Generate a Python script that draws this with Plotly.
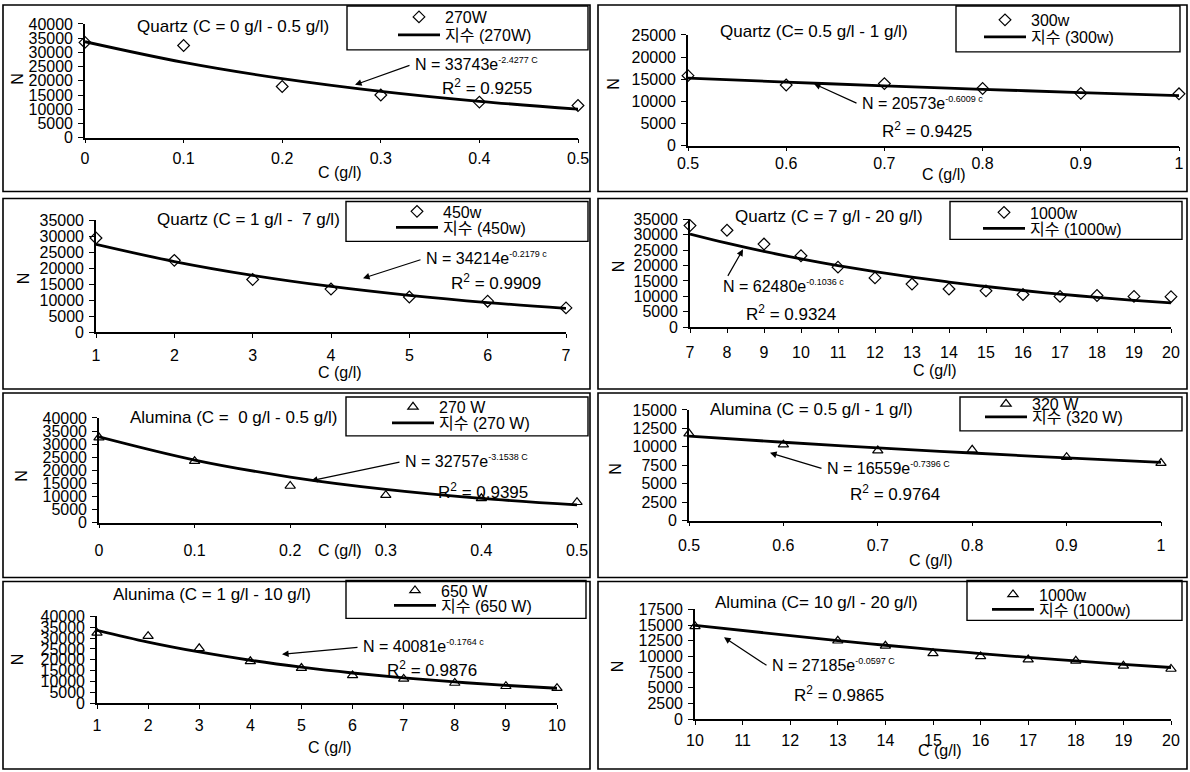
import math
import plotly.graph_objects as go

# ---------------- data ----------------
q1_c = [0, 0.1, 0.2, 0.3, 0.4, 0.5]
q1_n = [33500, 32400, 18000, 15000, 12500, 11300]
q2_c = [0.5, 0.6, 0.7, 0.8, 0.9, 1.0]
q2_n = [15800, 13700, 14000, 12900, 11800, 11700]
q3_c = [1, 2, 3, 4, 5, 6, 7]
q3_n = [29500, 22500, 16500, 13500, 11000, 9700, 7600]
q4_c = [7, 8, 9, 10, 11, 12, 13, 14, 15, 16, 17, 18, 19, 20]
q4_n = [33000, 31500, 27000, 23200, 19500, 16000, 14000, 12400, 11800, 10600, 10000, 10300, 10000, 9900]
a1_c = [0, 0.1, 0.2, 0.3, 0.4, 0.5]
a1_n = [32500, 23500, 14000, 10500, 9300, 7800]
a2_c = [0.5, 0.6, 0.7, 0.8, 0.9, 1.0]
a2_n = [11800, 10300, 9500, 9600, 8600, 7800]
a3_c = [1, 2, 3, 4, 5, 6, 7, 8, 9, 10]
a3_n = [32400, 30900, 25300, 19300, 16200, 12800, 11200, 9300, 7800, 6900]
a4_c = [10, 13, 14, 15, 16, 17, 18, 19, 20]
a4_n = [14800, 12500, 11700, 10500, 10000, 9500, 9300, 8500, 8000]

# exponential trendline N = A * exp(B * C), as printed on the chart
fit_a = [33743, 20573, 34214, 62480, 32757, 16559, 40081, 27185]
fit_b = [-2.4277, -0.6009, -0.2179, -0.1036, -3.1538, -0.7396, -0.1764, -0.0597]
fit_b_txt = ["-2.4277 C", "-0.6009 c", "-0.2179 c", "-0.1036 c", "-3.1538 C", "-0.7396 C", "-0.1764 c", "-0.0597 C"]
r2_vals = ["0.9255", "0.9425", "0.9909", "0.9324", "0.9395", "0.9764", "0.9876", "0.9865"]

series_names = ["270W", "300w", "450w", "1000w", "270 W", "320 W", "650 W", "1000w"]
panel_titles = [
    "Quartz (C = 0 g/l - 0.5 g/l)",
    "Quartz (C= 0.5 g/l - 1 g/l)",
    "Quartz (C = 1 g/l -  7 g/l)",
    "Quartz (C = 7 g/l - 20 g/l)",
    "Alumina (C =  0 g/l - 0.5 g/l)",
    "Alumina (C = 0.5 g/l - 1 g/l)",
    "Alunima (C = 1 g/l - 10 g/l)",
    "Alumina (C= 10 g/l - 20 g/l)",
]
x_tick_labels = [
    ["0", "0.1", "0.2", "0.3", "0.4", "0.5"],
    ["0.5", "0.6", "0.7", "0.8", "0.9", "1"],
    ["1", "2", "3", "4", "5", "6", "7"],
    [str(v) for v in range(7, 21)],
    ["0", "0.1", "0.2", "0.3", "0.4", "0.5"],
    ["0.5", "0.6", "0.7", "0.8", "0.9", "1"],
    [str(v) for v in range(1, 11)],
    [str(v) for v in range(10, 21)],
]
y_max = [40000, 25000, 35000, 35000, 40000, 15000, 40000, 17500]
y_step = [5000, 5000, 5000, 5000, 5000, 2500, 5000, 2500]
x_title = "C (g/l)"
y_title = "N"

cs = [q1_c, q2_c, q3_c, q4_c, a1_c, a2_c, a3_c, a4_c]
ns = [q1_n, q2_n, q3_n, q4_n, a1_n, a2_n, a3_n, a4_n]

# ---------------- layout (pixel positions) ----------------
W, H = 1190, 772
FONT = "Liberation Sans, Arial, Noto Sans CJK KR, sans-serif"
ITEMW = 42
# plot area: left, right, top, bottom, x tick-label standoff
areas = [
    (85, 578, 22, 136, 1),
    (688, 1179, 33, 144, -2),
    (96, 566, 219, 331, 4),
    (690, 1171, 218, 326, 6),
    (99, 577, 417, 522, 8),
    (689, 1161, 409, 520, 5),
    (97, 557, 616, 703, 3),
    (695, 1171, 609, 719, 2),
]
# text positions in px: title centre, equation left, arrow tail, arrow tip, R2 centre, x-title centre, N centre
texts = [
    dict(t=(233, 25), eq=(413, 62), tail=(411, 63), tip=(355, 83), r2=(487, 85), xt=(340, 171), yl=(18, 77)),
    dict(t=(814, 30), eq=(860, 101), tail=(858, 102), tip=(814, 82), r2=(927, 128), xt=(944, 173), yl=(614, 82)),
    dict(t=(248, 218), eq=(424, 257), tail=(422, 258), tip=(363, 277), r2=(496, 281), xt=(340, 371), yl=(23, 277)),
    dict(t=(829, 215), eq=(721, 285), tail=(727, 276), tip=(743, 248), r2=(791, 312), xt=(935, 369), yl=(618, 265)),
    dict(t=(233, 417), eq=(403, 460), tail=(401, 461), tip=(311, 480), r2=(483, 490), xt=(340, 550), yl=(22, 475)),
    dict(t=(811, 409), eq=(825, 467), tail=(823, 468), tip=(770, 452), r2=(895, 492), xt=(931, 560), yl=(616, 468)),
    dict(t=(212, 594), eq=(361, 646), tail=(359, 647), tip=(282, 654), r2=(432, 669), xt=(330, 747), yl=(17, 659)),
    dict(t=(816, 602), eq=(770, 665), tail=(768, 666), tip=(724, 637), r2=(839, 694), xt=(940, 750), yl=(617, 666)),
]
# legend: text start x, marker-row y, line-row y
legend_rows = [(446, 15, 33), (1032, 18, 35), (444, 210, 226), (1031, 211, 227),
               (440, 406, 422), (1033, 403, 416), (442, 590, 605), (1040, 594, 609)]
legend_boxes = [
    (347, 588, 4, 48), (956, 1180, 4, 50), (346, 588, 200, 240), (950, 1182, 200, 238),
    (346, 588, 396, 435), (960, 1182, 396, 430), (346, 586, 580, 618), (967, 1182, 580, 620),
]
panel_boxes = [
    (3, 590, 3, 190), (598, 1187, 3, 190), (3, 590, 197, 388), (598, 1187, 197, 388),
    (3, 590, 392, 577), (598, 1187, 392, 577), (3, 590, 581, 769), (598, 1187, 581, 769),
]


def px(x):
    return x / W


def py(y):
    return 1 - y / H


fig = go.Figure()
layout = dict(
    width=W, height=H, margin=dict(l=0, r=0, t=0, b=0, pad=0),
    paper_bgcolor="white", plot_bgcolor="rgba(0,0,0,0)",
    font=dict(family=FONT, size=16, color="black"),
    showlegend=True,
)
annotations = []
shapes = []

for i in range(8):
    n = i + 1
    sfx = "" if n == 1 else str(n)
    xa, ya = "x" + sfx, "y" + sfx
    lg_m = "legend" if i == 0 else "legend%d" % (2 * i + 1)
    lg_l = "legend%d" % (2 * i + 2)
    sym = "diamond-open" if i < 4 else "triangle-up-open"
    fig.add_trace(go.Scatter(
        x=cs[i], y=ns[i], mode="markers", name=series_names[i],
        marker=dict(symbol=sym, size=9, color="black", line=dict(width=1.2, color="black")),
        xaxis=xa, yaxis=ya, legend=lg_m, cliponaxis=False,
    ))
    trend_y = [fit_a[i] * math.exp(fit_b[i] * c) for c in cs[i]]
    fig.add_trace(go.Scatter(
        x=cs[i], y=trend_y, mode="lines", name="지수 (" + series_names[i] + ")",
        line=dict(color="black", width=2.8, shape="spline"),
        xaxis=xa, yaxis=ya, legend=lg_l, cliponaxis=False,
    ))
    l, r, t, b, so = areas[i]
    xt = [float(v) for v in x_tick_labels[i]]
    layout["xaxis" + sfx] = dict(
        domain=[px(l), px(r)], anchor=ya, range=[xt[0], xt[-1]],
        tickvals=xt, ticktext=x_tick_labels[i],
        ticks="outside", ticklen=4, tickwidth=1.3, tickcolor="black",
        showline=True, linecolor="black", linewidth=1.6,
        showgrid=False, zeroline=False, automargin=False,
        ticklabelstandoff=so, tickfont=dict(size=16, color="black", family=FONT),
    )
    layout["yaxis" + sfx] = dict(
        domain=[py(b), py(t)], anchor=xa, range=[0, y_max[i]],
        tick0=0, dtick=y_step[i], tickformat="d",
        ticks="outside", ticklen=5, tickwidth=1.3, tickcolor="black",
        showline=True, linecolor="black", linewidth=1.6,
        showgrid=False, zeroline=False, automargin=False,
        ticklabelstandoff=2, tickfont=dict(size=16, color="black", family=FONT),
    )
    tx, ym, yl = legend_rows[i]
    for name, yy in ((lg_m, ym), (lg_l, yl)):
        layout[name] = dict(
            x=px(tx - ITEMW - 11), y=py(yy), xanchor="left", yanchor="middle",
            bgcolor="rgba(0,0,0,0)", borderwidth=0,
            font=dict(size=16, color="black", family=FONT), itemwidth=ITEMW,
        )
    a = texts[i]
    annotations.append(dict(xref="paper", yref="paper", x=px(a["t"][0]), y=py(a["t"][1]),
                            text=panel_titles[i], showarrow=False, font=dict(size=17),
                            xanchor="center", yanchor="middle"))
    annotations.append(dict(xref="paper", yref="paper", x=px(a["eq"][0]), y=py(a["eq"][1]),
                            text="N = %de<sup><span style=\"font-size:9px\">%s</span></sup>" % (fit_a[i], fit_b_txt[i]),
                            showarrow=False, font=dict(size=16), xanchor="left", yanchor="middle"))
    annotations.append(dict(xref="paper", yref="paper", x=px(a["tip"][0]), y=py(a["tip"][1]),
                            ax=a["tail"][0] - a["tip"][0], ay=a["tail"][1] - a["tip"][1],
                            text="", showarrow=True, arrowhead=2, arrowsize=1.1, arrowwidth=1.2,
                            arrowcolor="black", standoff=0))
    annotations.append(dict(xref="paper", yref="paper", x=px(a["r2"][0]), y=py(a["r2"][1]),
                            text="R<sup>2</sup> = " + r2_vals[i], showarrow=False, font=dict(size=17),
                            xanchor="center", yanchor="middle"))
    annotations.append(dict(xref="paper", yref="paper", x=px(a["xt"][0]), y=py(a["xt"][1]),
                            text=x_title, showarrow=False, font=dict(size=16),
                            xanchor="center", yanchor="middle"))
    annotations.append(dict(xref="paper", yref="paper", x=px(a["yl"][0]), y=py(a["yl"][1]),
                            text=y_title, textangle=-90, showarrow=False, font=dict(size=16),
                            xanchor="center", yanchor="middle"))
    bl, br, bt, bb = legend_boxes[i]
    shapes.append(dict(type="rect", xref="paper", yref="paper", x0=px(bl), x1=px(br),
                       y0=py(bb), y1=py(bt), line=dict(color="black", width=1.4)))
    pl, pr, pt, pb = panel_boxes[i]
    shapes.append(dict(type="rect", xref="paper", yref="paper", x0=px(pl), x1=px(pr),
                       y0=py(pb), y1=py(pt), line=dict(color="black", width=1.6)))

layout["annotations"] = annotations
layout["shapes"] = shapes
fig.update_layout(**layout)
fig.write_html("out.html", config={"displayModeBar": False},
               post_script="document.body.style.margin='0px';")
